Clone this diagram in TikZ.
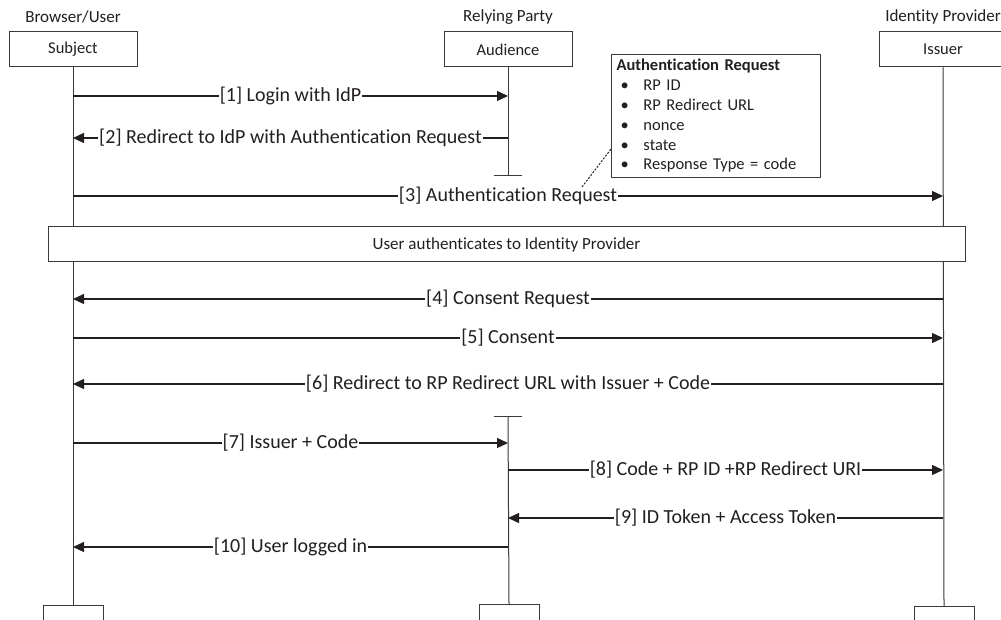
\documentclass[tikz,border=0pt]{standalone}
\usepackage{fontspec}
\setmainfont{Carlito}[Ligatures=NoCommon]
\usetikzlibrary{arrows.meta}
\definecolor{ln}{HTML}{3A3A3A}
\definecolor{txt}{HTML}{231F20}
\begin{document}
\begin{tikzpicture}[x=1pt,y=-1pt,
  every node/.style={text=txt},
  lifebox/.style={draw=ln, line width=1pt, fill=white, minimum width=128pt, minimum height=35pt, inner sep=0pt, font=\fontsize{16.5}{18}\selectfont},
  endbox/.style={draw=ln, line width=1pt, fill=white, minimum width=60pt, minimum height=30pt, inner sep=0pt, anchor=north},
  head/.style={font=\fontsize{17}{19}\selectfont, inner sep=0pt},
  life/.style={draw=ln, line width=1pt},
  msg/.style={draw=txt, line width=1.2pt, -{Triangle[length=11pt,width=10pt]}},
  lbl/.style={fill=white, inner xsep=1pt, inner ysep=1pt, font=\fontsize{20}{22}\selectfont},
  note/.style={draw=ln, line width=1pt, fill=white, anchor=north west, align=left, text width=199pt, inner xsep=5pt, inner ysep=4pt, minimum height=123pt, font=\fontsize{16.5}{19.8}\selectfont},
  callout/.style={draw=txt, line width=1pt, dash pattern=on 2pt off 1.5pt}
]
\clip (0,0) rectangle (1001,620);
\fill[white] (0,0) rectangle (1001,620);

% headers
\node[head] (hs) at (73,17) {Browser/User};
\node[head] (ha) at (508,17) {Relying Party};
\node[head] (hi) at (943,17) {Identity Provider};

% top boxes
\node[lifebox] (subj) at (73,49.5) {Subject};
\node[lifebox] (aud) at (508,49.5) {Audience};
\node[lifebox] (iss) at (943,49.5) {Issuer};

% bottom boxes
\node[endbox] (subjb) at (73,605) {};
\node[endbox] (audb) at (509,604) {};
\node[endbox] (issb) at (944,606) {};

% lifelines
\draw[life] (subj.south) -- (subjb.north);
\draw[life] (iss.south) -- (issb.north);
\coordinate (audend) at (508,176);
\coordinate (audstart) at (508,416);
\draw[life] (aud.south) -- (audend);
\draw[life] ([xshift=-14pt]audend) -- ([xshift=14pt]audend);
\draw[life] (audstart) -- (audb.north);
\draw[life] ([xshift=-14pt]audstart) -- ([xshift=14pt]audstart);

% message anchor points
\coordinate (s1) at (73,96);   \coordinate (a1) at (508,96);
\coordinate (s2) at (73,138);  \coordinate (a2) at (508,138);
\coordinate (s3) at (73,196);  \coordinate (i3) at (943,196);
\coordinate (s4) at (73,299);  \coordinate (i4) at (943,299);
\coordinate (s5) at (73,338);  \coordinate (i5) at (943,338);
\coordinate (s6) at (73,384);  \coordinate (i6) at (943,384);
\coordinate (s7) at (73,443);  \coordinate (a7) at (508,443);
\coordinate (a8) at (508,470); \coordinate (i8) at (943,470);
\coordinate (a9) at (508,518); \coordinate (i9) at (943,518);
\coordinate (s10) at (73,547); \coordinate (a10) at (508,547);

% messages
\draw[msg] (s1) -- (a1) node[midway, lbl] (l1) {[1] Login with IdP};
\draw[msg] (a2) -- (s2) node[midway, lbl] (l2) {[2] Redirect to IdP with Authentication Request};
\draw[msg] (s3) -- (i3) node[midway, lbl] (l3) {[3] Authentication Request};

% user authenticates
\node[draw=ln, line width=1pt, fill=white, minimum width=917pt, minimum height=35pt, inner sep=0pt, font=\fontsize{17}{19}\selectfont] (auth) at (506.5,244.5) {User authenticates to Identity Provider};

\draw[msg] (i4) -- (s4) node[midway, lbl] (l4) {[4] Consent Request};
\draw[msg] (s5) -- (i5) node[midway, lbl] (l5) {[5] Consent};
\draw[msg] (i6) -- (s6) node[midway, lbl] (l6) {[6] Redirect to RP Redirect URL with Issuer + Code};
\draw[msg] (s7) -- (a7) node[midway, lbl] (l7) {[7] Issuer + Code};
\draw[msg] (a8) -- (i8) node[midway, lbl] (l8) {[8] Code + RP ID +RP Redirect URI};
\draw[msg] (i9) -- (a9) node[midway, lbl] (l9) {[9] ID Token + Access Token};
\draw[msg] (a10) -- (s10) node[midway, lbl] (l10) {[10] User logged in};

% note
\node[note] (note) at (611,54) {\textbf{Authentication Request}\\
\makebox[27pt][l]{\hspace{4pt}\textbullet}RP ID\\
\makebox[27pt][l]{\hspace{4pt}\textbullet}RP Redirect URL\\
\makebox[27pt][l]{\hspace{4pt}\textbullet}nonce\\
\makebox[27pt][l]{\hspace{4pt}\textbullet}state\\
\makebox[27pt][l]{\hspace{4pt}\textbullet}Response Type = code};
\coordinate (cpt) at (582,187);
\draw[callout] (cpt) -- ([yshift=29pt]note.south west);
\end{tikzpicture}
\end{document}
